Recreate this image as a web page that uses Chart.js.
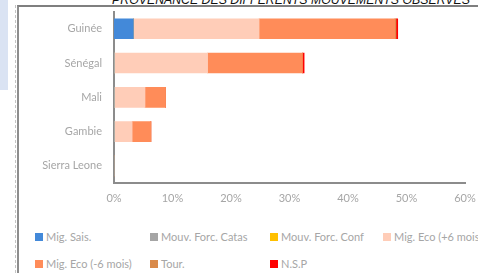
<!DOCTYPE html>
<html lang="fr">
<head>
<meta charset="UTF-8">
<title>Provenance des différents mouvements observés</title>
<script src="https://cdn.jsdelivr.net/npm/chart.js"></script>
<style>
  html, body { margin: 0; padding: 0; }
  body { width: 478px; height: 273px; overflow: hidden; position: relative; background: #fff; font-family: Lato, "Open Sans", sans-serif; }
  .side-tab { position: absolute; left: 0; top: 0; width: 8px; height: 90px; background: #dae3f3; }
  .dash-line { position: absolute; left: 15px; top: 5px; height: 268px; border-left: 1px dashed #c4c4c4; }
  .frame { position: absolute; left: 17px; top: 5px; width: 470px; height: 280px; border-left: 2px solid #8e8e8e; border-top: 2px solid #7f7f7f; }
  .title { position: absolute; left: 90px; width: 402px; top: -7px; line-height: 14px; text-align: center; font-style: italic; font-size: 12.3px; font-family: "Liberation Sans", Arial, sans-serif; color: #111; white-space: nowrap; }
  .chart-box { position: absolute; left: 19px; top: -7px; width: 459px; height: 214px; }
  .legend { position: absolute; left: 0; top: 0; }
  .legend-item { position: absolute; display: flex; align-items: center; white-space: nowrap; font-size: 11px; color: #a6a6a6; }
  .legend-item span.box { width: 8px; height: 8px; margin-right: 3px; display: inline-block; }
</style>
</head>
<body>
<div class="side-tab"></div>
<div class="dash-line"></div>
<div class="title">PROVENANCE DES DIFFERENTS MOUVEMENTS OBSERVES</div>
<div class="frame"></div>
<div class="chart-box"><canvas id="chart" width="459" height="214"></canvas></div>
<div class="legend" id="legend"></div>

<script>
  // categories and series (%)
  const categories = ['Guinée', 'Sénégal', 'Mali', 'Gambie', 'Sierra Leone'];
  const seriesNames = ['Mig. Sais.', 'Mouv. Forc. Catas', 'Mouv. Forc. Conf', 'Mig. Eco (+6 mois', 'Mig. Eco (-6 mois)', 'Tour.', 'N.S.P'];
  const migSais   = [3.3, 0, 0, 0, 0];
  const forcCatas = [0, 0, 0, 0, 0];
  const forcConf  = [0, 0, 0, 0, 0];
  const ecoPlus6  = [21.5, 16.0, 5.3, 3.1, 0];
  const ecoMoins6 = [23.2, 16.2, 3.5, 3.2, 0];
  const tour      = [0.2, 0, 0, 0, 0];
  const nsp       = [0.3, 0.3, 0, 0, 0];
  const xTicks    = [0, 10, 20, 30, 40, 50, 60];

  const colors = ['#4389d9', '#a5a5a5', '#ffc000', '#ffcdb8', '#ff8c59', '#d98a4a', '#ff0000'];
  const values = [migSais, forcCatas, forcConf, ecoPlus6, ecoMoins6, tour, nsp];

  const datasets = values.map((v, i) => ({
    label: seriesNames[i],
    data: v,
    backgroundColor: colors[i],
    borderWidth: 0,
    barThickness: 20
  }));

  new Chart(document.getElementById('chart'), {
    type: 'bar',
    data: { labels: categories, datasets: datasets },
    options: {
      indexAxis: 'y',
      responsive: false,
      animation: false,
      layout: { padding: { top: 5, right: 0, bottom: 0, left: 0 } },
      plugins: { legend: { display: false }, tooltip: { enabled: false } },
      scales: {
        x: {
          stacked: true,
          min: 0,
          max: 60,
          afterBuildTicks: s => { s.ticks = xTicks.map(v => ({ value: v })); },
          afterFit: s => { s.height = 24; s.paddingRight = 13; s.paddingLeft = 0; },
          grid: { display: false, drawTicks: false },
          border: { display: true, color: '#8c8c8c', width: 2 },
          ticks: { color: '#a6a6a6', font: { family: 'Lato', size: 11 }, padding: 9, callback: v => v + '%' }
        },
        y: {
          stacked: true,
          afterFit: s => { s.width = 95; },
          grid: { display: false, drawTicks: false },
          border: { display: true, color: '#8c8c8c', width: 2 },
          ticks: { color: '#a6a6a6', font: { family: 'Lato', size: 11 }, padding: 12 }
        }
      }
    }
  });

  // legend laid out in fixed columns like the original
  const legend = document.getElementById('legend');
  const colX = [35, 150, 270, 383];
  const rowY = [230, 257];
  seriesNames.forEach((name, i) => {
    const item = document.createElement('div');
    item.className = 'legend-item';
    item.style.left = colX[i % 4] + 'px';
    item.style.top = rowY[Math.floor(i / 4)] + 'px';
    item.innerHTML = '<span class="box" style="background:' + colors[i] + '"></span>' + name;
    legend.appendChild(item);
  });
</script>
</body>
</html>
